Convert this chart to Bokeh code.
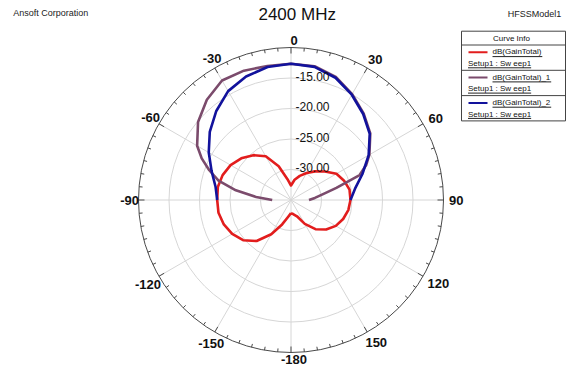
import numpy as np
from bokeh.plotting import figure
from bokeh.models import Range1d
from bokeh.core.properties import value
from bokeh.embed import file_html
from bokeh.resources import INLINE

# ---------------- data ----------------
title_text = "2400 MHz"
company = "Ansoft Corporation"
model_name = "HFSSModel1"

series_names = ["dB(GainTotal)", "dB(GainTotal)_1", "dB(GainTotal)_2"]
setup_name = "Setup1 : Sw eep1"
series_colors = ["#e21d1d", "#7b4b6c", "#12129c"]

red_angles = list(range(-180, 181, 10))
red_db = [-32.84, -32.18, -30.74, -28.52, -26.23, -24.75, -23.87, -23.28, -22.93,
          -22.90, -22.82, -23.07, -23.56, -24.36, -25.40, -26.72, -29.10, -31.50,
          -32.62, -31.62, -30.79, -29.89, -28.87, -27.74, -26.40, -25.74, -25.26,
          -25.25, -25.46, -25.90, -26.52, -27.48, -28.75, -30.48, -32.16, -32.62, -32.84]

purple_angles = [-90, -85, -80, -75, -70, -65, -60, -50, -40, -30, -20, -10, 0,
                 10, 20, 30, 40, 50, 60, 65, 70, 75, 80, 85, 90]
purple_db = [-31.92, -29.26, -25.82, -22.70, -20.74, -18.85, -17.23, -15.11, -13.54,
             -12.39, -12.44, -12.70, -12.67, -12.74, -13.52, -14.95, -16.48, -18.03,
             -20.16, -21.39, -23.03, -27.30, -29.75, -31.07, -32.05]

blue_angles = list(range(-90, 91, 10))
blue_db = [-22.90, -22.44, -21.15, -19.43, -17.62, -15.95, -14.39, -13.46, -12.87,
           -12.67, -12.84, -13.67, -15.07, -16.59, -18.15, -20.30, -22.54, -24.34, -25.25]

radial_ticks = [-15, -20, -25, -30]
r_min, r_max, r_step = -35, -10, 5
angle_labels = [0, 30, 60, 90, 120, 150, -180, -150, -120, -90, -60, -30]

# ---------------- layout ----------------
W, H = 566, 372
CX, CY = 290.5, 199.5      # polar centre in figure pixels
S = 6.1                     # pixels per dB

def px2x(fx):
    return (fx - CX) / S

def py2y(fy):
    return (CY - fy) / S

FONT = value("Liberation Sans")

p = figure(width=W, height=H, output_backend="svg", toolbar_location=None,
           x_range=Range1d(px2x(0), px2x(W)), y_range=Range1d(py2y(H), py2y(0)),
           min_border=0, border_fill_color="white", background_fill_color="white")
p.axis.visible = False
p.grid.visible = False
p.outline_line_color = None

R_OUT = r_max - r_min

def polar(angles, dbs):
    a = np.radians(np.asarray(angles, dtype=float))
    r = np.asarray(dbs, dtype=float) - r_min
    return r * np.sin(a), r * np.cos(a)

# grid rings
ring_vals = list(range(r_min + r_step, r_max, r_step))
p.circle(x=[0] * len(ring_vals), y=[0] * len(ring_vals),
         radius=[v - r_min for v in ring_vals],
         fill_color=None, line_color="#d6d6d6", line_width=1)
# spokes
sp = np.radians(np.arange(0, 360, 30))
p.segment(x0=np.zeros(len(sp)), y0=np.zeros(len(sp)),
          x1=R_OUT * np.sin(sp), y1=R_OUT * np.cos(sp),
          line_color="#d6d6d6", line_width=1)

# outer circle + ticks
p.circle(x=[0], y=[0], radius=[R_OUT], fill_color=None, line_color="#4a4a4a", line_width=1)
tk = np.arange(0, 360, 5)
tlen = np.where(tk % 30 == 0, 6.0, 3.5) / S
tr = np.radians(tk)
p.segment(x0=R_OUT * np.sin(tr), y0=R_OUT * np.cos(tr),
          x1=(R_OUT - tlen) * np.sin(tr), y1=(R_OUT - tlen) * np.cos(tr),
          line_color="#4a4a4a", line_width=1)

# curves
for (ang, db), col in zip([(red_angles, red_db), (purple_angles, purple_db),
                           (blue_angles, blue_db)], series_colors):
    x, y = polar(ang, db)
    p.line(x, y, line_color=col, line_width=2.6, line_join="round")

# radial labels
rl_x = [0.0] * len(radial_ticks)
rl_y = [v - r_min for v in radial_ticks]
p.text(x=rl_x, y=rl_y, text=["%.2f" % v for v in radial_ticks], x_offset=4.5, y_offset=-2,
       text_font=FONT, text_font_size="12px", text_color="#111111",
       text_align="left", text_baseline="middle")

# angle labels
CW = {"-": 0.333, "0": 0.556, "1": 0.556, "2": 0.556, "3": 0.556, "5": 0.556,
      "6": 0.556, "8": 0.556, "9": 0.556}
LFS = 13
lx, ly, lt = [], [], []
for a in angle_labels:
    s = str(a)
    w = sum(CW[c] for c in s) * LFS
    h = 9.4
    ar = np.radians(a)
    rc = 155 + (w / 2) * abs(np.sin(ar)) + (h / 2) * abs(np.cos(ar))
    fx = CX + rc * np.sin(ar) + 3
    fy = CY - rc * np.cos(ar)
    lx.append(px2x(fx)); ly.append(py2y(fy)); lt.append(s)
p.text(x=lx, y=ly, text=lt, text_font=FONT, text_font_size="%dpx" % LFS,
       text_font_style="bold", text_color="#111111",
       text_align="center", text_baseline="middle")

# header texts
p.text(x=[px2x(296.7)], y=[py2y(13.8)], text=[title_text], text_font=FONT,
       text_font_size="17px", text_color="#111111", text_align="center", text_baseline="middle")
p.text(x=[px2x(12.7)], y=[py2y(12.7)], text=[company], text_font=FONT,
       text_font_size="9px", text_color="#222222", text_align="left", text_baseline="middle")
p.text(x=[px2x(560.7)], y=[py2y(13.3)], text=[model_name], text_font=FONT,
       text_font_size="9px", text_color="#222222", text_align="right", text_baseline="middle")

# ---------------- legend box ("Curve Info") ----------------
AW = {"d": .556, "B": .667, "(": .333, ")": .333, "G": .778, "a": .556, "i": .222,
      "n": .556, "T": .611, "o": .556, "t": .278, "l": .222, "_": .556, "1": .556,
      "2": .556, "S": .667, "e": .556, "u": .556, "p": .556, " ": .278, ":": .278, "w": .722}
def tw(s, fs=8):
    return sum(AW.get(c, .556) for c in s) * fs

bx0, bx1 = 461.0, 565.0
by0 = 30.7
hdr = 13.8
row_h = 25.3
rows_top = [by0 + hdr + i * row_h for i in range(3)]
by1 = rows_top[-1] + row_h
p.quad(left=[px2x(bx0)], right=[px2x(bx1)], top=[py2y(by0)], bottom=[py2y(by1)],
       fill_color="white", line_color="#444444", line_width=1)
seps = [by0 + hdr] + rows_top[1:]
p.segment(x0=[px2x(bx0)] * len(seps), x1=[px2x(bx1)] * len(seps),
          y0=[py2y(s) for s in seps], y1=[py2y(s) for s in seps],
          line_color="#444444", line_width=1)
p.text(x=[px2x((bx0 + bx1) / 2 - 2)], y=[py2y(by0 + hdr / 2)], text=["Curve Info"],
       text_font=FONT, text_font_size="8px", text_color="#111111",
       text_align="center", text_baseline="middle")

t1x, t1y, t2x, t2y = [], [], [], []
ux0, ux1, uy = [], [], []
for i, (nm, col) in enumerate(zip(series_names, series_colors)):
    top = rows_top[i]
    yl = top + 7.3
    p.line(x=[px2x(468), px2x(487)], y=[py2y(yl), py2y(yl)], line_color=col, line_width=2)
    t1x.append(px2x(492)); t1y.append(py2y(yl - 0.5))
    t2x.append(px2x(467.5)); t2y.append(py2y(top + 18.5))
    ux0 += [px2x(492), px2x(467.5)]
    ux1 += [px2x(492 + tw(nm)), px2x(467.5 + tw(setup_name))]
    uy += [py2y(yl + 4.3), py2y(top + 22.8)]
p.text(x=t1x, y=t1y, text=series_names, text_font=FONT, text_font_size="8px",
       text_color="#111111", text_align="left", text_baseline="middle")
p.text(x=t2x, y=t2y, text=[setup_name] * 3, text_font=FONT, text_font_size="8px",
       text_color="#111111", text_align="left", text_baseline="middle")
p.segment(x0=ux0, x1=ux1, y0=uy, y1=uy, line_color="#222222", line_width=1)

open("out.html", "w").write(file_html(p, INLINE))
